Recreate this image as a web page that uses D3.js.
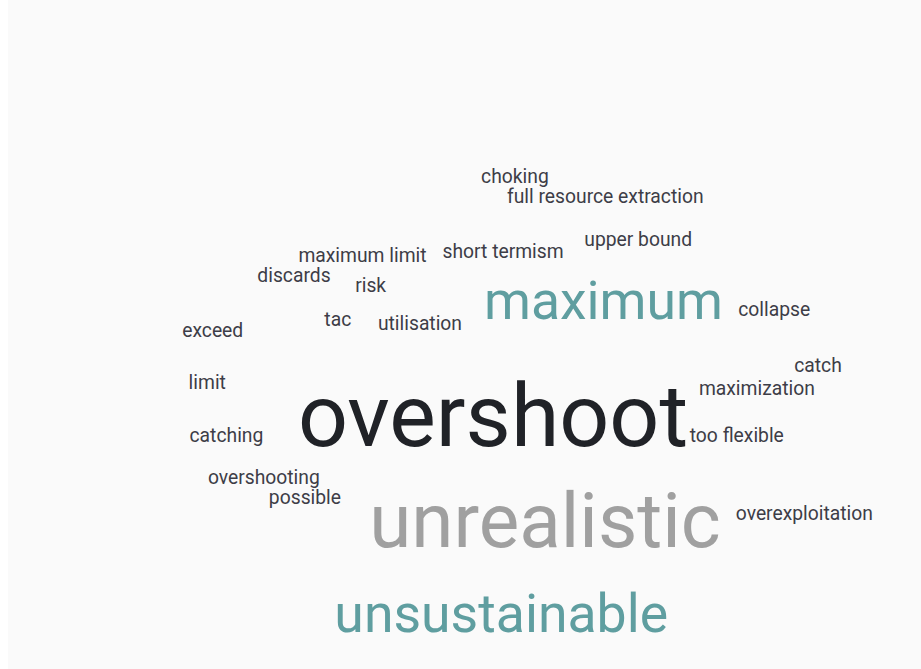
<!DOCTYPE html>
<html>
<head>
<meta charset="utf-8">
<script src="https://cdn.jsdelivr.net/npm/d3@7"></script>
<style>
  html, body { margin: 0; padding: 0; background: #ffffff; }
  #cloud { position: absolute; left: 8px; top: 0; width: 913px; height: 669px; background: #fafafa; }
  text { font-family: Roboto, "Open Sans", sans-serif; }
</style>
</head>
<body>
<div id="cloud"></div>
<script>
var w = 913, h = 669;

// words and how many times each was given
var words = ["overshoot", "unrealistic", "maximum", "unsustainable",
  "choking", "full resource extraction", "upper bound", "maximum limit", "short termism",
  "discards", "risk", "exceed", "tac", "utilisation", "collapse", "catch", "maximization",
  "too flexible", "limit", "catching", "overshooting", "possible", "overexploitation"];
var counts = [7, 6, 4, 4,
  1, 1, 1, 1, 1,
  1, 1, 1, 1, 1, 1, 1, 1,
  1, 1, 1, 1, 1, 1];

// layout spot of each word (centre, baseline) in a 0-100 cloud space
var layoutX = [54.0, 59.7, 66.1, 54.9,
  56.4, 66.3, 69.9, 39.7, 55.1,
  32.2, 40.6, 23.3, 37.0, 46.0, 84.8, 89.6, 82.9,
  80.7, 22.7, 24.8, 28.9, 33.4, 88.1];
var layoutY = [66.6, 81.8, 47.7, 94.5,
  27.3, 30.3, 36.7, 39.1, 38.5,
  42.1, 43.6, 50.3, 48.8, 49.3, 47.3, 55.6, 59.0,
  66.0, 58.1, 66.0, 72.4, 75.4, 77.8];

var svg = d3.select("#cloud").append("svg")
    .attr("width", w).attr("height", h);

var x = d3.scaleLinear().domain([0, 100]).range([0, w]);
var y = d3.scaleLinear().domain([0, 100]).range([0, h]);

// font size follows the count
var size = d3.scaleLinear().domain([1, 7]).range([19.3, 87.8]);

// first four ranks get their own colour, the rest are dark grey
var colour = function (i) {
    return ["#202227", "#a0a0a0", "#5f9ea0", "#5f9ea0"][i] || "#3d3d47";
};

svg.append("g").selectAll("text")
    .data(words)
    .enter().append("text")
    .attr("x", (d, i) => x(layoutX[i]) - 8)
    .attr("y", (d, i) => y(layoutY[i]))
    .attr("text-anchor", "middle")
    .attr("font-size", (d, i) => size(counts[i]) + "px")
    .attr("fill", (d, i) => colour(i))
    .text(d => d);
</script>
</body>
</html>
